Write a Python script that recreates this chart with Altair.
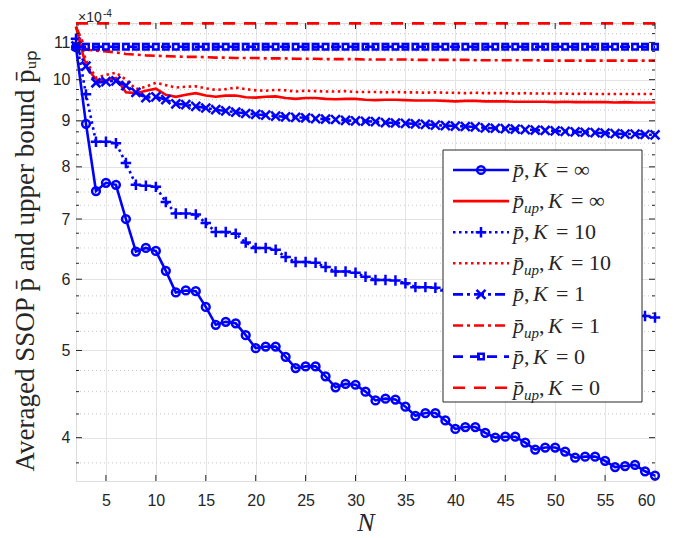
import altair as alt
import pandas as pd

# ---------------- data (values in units of 1e-4) ----------------
N = list(range(2, 61))

p_inf = [10.87, 8.93, 7.52, 7.68, 7.64, 7.00, 6.44, 6.50, 6.45, 6.13,
         5.80, 5.83, 5.82, 5.59, 5.34, 5.38, 5.36, 5.20, 5.03, 5.05,
         5.05, 4.92, 4.78, 4.80, 4.80, 4.68, 4.55, 4.59, 4.58, 4.50,
         4.40, 4.42, 4.41, 4.33, 4.23, 4.26, 4.26, 4.18, 4.09, 4.11,
         4.11, 4.05, 4.00, 4.01, 4.01, 3.95, 3.88, 3.90, 3.90, 3.86,
         3.80, 3.81, 3.81, 3.77, 3.71, 3.72, 3.73, 3.67, 3.63]

pup_inf = [11.45, 10.35, 10.00, 9.97, 10.04, 9.68, 9.66, 9.72, 9.77, 9.62,
           9.57, 9.62, 9.66, 9.60, 9.57, 9.60, 9.60, 9.56, 9.55, 9.57,
           9.58, 9.54, 9.52, 9.54, 9.54, 9.52, 9.51, 9.52, 9.52, 9.50,
           9.49, 9.50, 9.50, 9.49, 9.48, 9.48, 9.48, 9.47, 9.46, 9.47,
           9.47, 9.46, 9.46, 9.46, 9.45, 9.45, 9.45, 9.45, 9.44, 9.45,
           9.44, 9.44, 9.44, 9.44, 9.43, 9.44, 9.43, 9.43, 9.43]

p_10 = [11.10, 9.63, 8.53, 8.53, 8.50, 8.08, 7.64, 7.62, 7.60, 7.31,
        7.10, 7.10, 7.08, 6.93, 6.77, 6.77, 6.74, 6.59, 6.50, 6.50,
        6.47, 6.35, 6.27, 6.27, 6.26, 6.19, 6.12, 6.12, 6.10, 6.04,
        5.99, 5.99, 5.98, 5.94, 5.88, 5.88, 5.87, 5.83, 5.79, 5.79,
        5.78, 5.74, 5.71, 5.71, 5.70, 5.66, 5.63, 5.63, 5.62, 5.59,
        5.56, 5.56, 5.55, 5.52, 5.50, 5.50, 5.49, 5.46, 5.44]

pup_10 = [11.45, 10.50, 10.05, 10.12, 10.18, 10.00, 9.76, 9.82, 9.92, 9.86,
          9.80, 9.82, 9.83, 9.78, 9.74, 9.76, 9.80, 9.76, 9.73, 9.72,
          9.74, 9.73, 9.70, 9.72, 9.71, 9.70, 9.70, 9.71, 9.69, 9.69,
          9.69, 9.68, 9.69, 9.68, 9.68, 9.67, 9.68, 9.67, 9.67, 9.66,
          9.67, 9.66, 9.66, 9.66, 9.65, 9.66, 9.65, 9.65, 9.65, 9.65,
          9.64, 9.65, 9.64, 9.64, 9.64, 9.64, 9.64, 9.64, 9.64]

p_1 = [10.90, 10.35, 9.92, 9.95, 9.97, 9.85, 9.68, 9.55, 9.57, 9.50,
       9.40, 9.38, 9.34, 9.30, 9.26, 9.23, 9.20, 9.17, 9.15, 9.13,
       9.11, 9.09, 9.08, 9.07, 9.05, 9.04, 9.03, 9.01, 9.00, 8.99,
       8.98, 8.96, 8.95, 8.94, 8.93, 8.92, 8.90, 8.89, 8.88, 8.87,
       8.86, 8.84, 8.83, 8.82, 8.81, 8.80, 8.79, 8.78, 8.77, 8.76,
       8.75, 8.74, 8.73, 8.72, 8.71, 8.70, 8.70, 8.69, 8.68]

pup_1 = [11.45, 10.80, 10.77, 10.75, 10.72, 10.68, 10.66, 10.64, 10.63, 10.62,
         10.61, 10.60, 10.60, 10.59, 10.58, 10.58, 10.57, 10.57, 10.57, 10.56,
         10.56, 10.56, 10.55, 10.55, 10.55, 10.54, 10.54, 10.54, 10.54, 10.53,
         10.53, 10.53, 10.53, 10.53, 10.52, 10.52, 10.52, 10.52, 10.52, 10.52,
         10.51, 10.51, 10.51, 10.51, 10.51, 10.51, 10.51, 10.50, 10.50, 10.50,
         10.50, 10.50, 10.50, 10.50, 10.50, 10.50, 10.50, 10.50, 10.50]

p_0 = [10.88, 10.88, 10.88, 10.88, 10.88, 10.88, 10.88, 10.88, 10.88, 10.88,
       10.88, 10.88, 10.88, 10.88, 10.88, 10.88, 10.88, 10.88, 10.88, 10.88,
       10.88, 10.88, 10.88, 10.88, 10.88, 10.88, 10.88, 10.88, 10.88, 10.88,
       10.88, 10.88, 10.88, 10.88, 10.88, 10.88, 10.88, 10.88, 10.88, 10.88,
       10.88, 10.88, 10.88, 10.88, 10.88, 10.88, 10.88, 10.88, 10.88, 10.88,
       10.88, 10.88, 10.88, 10.88, 10.88, 10.88, 10.88, 10.88, 10.88]

pup_0 = [11.55, 11.55, 11.55, 11.55, 11.55, 11.55, 11.55, 11.55, 11.55, 11.55,
         11.55, 11.55, 11.55, 11.55, 11.55, 11.55, 11.55, 11.55, 11.55, 11.55,
         11.55, 11.55, 11.55, 11.55, 11.55, 11.55, 11.55, 11.55, 11.55, 11.55,
         11.55, 11.55, 11.55, 11.55, 11.55, 11.55, 11.55, 11.55, 11.55, 11.55,
         11.55, 11.55, 11.55, 11.55, 11.55, 11.55, 11.55, 11.55, 11.55, 11.55,
         11.55, 11.55, 11.55, 11.55, 11.55, 11.55, 11.55, 11.55, 11.55]

x_ticks = [5, 10, 15, 20, 25, 30, 35, 40, 45, 50, 55, 60]
y_ticks = [4, 5, 6, 7, 8, 9, 10, 11]
y_minor = [3.75, 4.25, 4.5, 4.75, 5.25, 5.5, 5.75, 6.25, 6.5, 6.75,
           7.25, 7.5, 7.75, 8.25, 8.5, 8.75, 9.25, 9.5, 9.75, 10.25,
           10.5, 10.75, 11.25, 11.5]

K_labels = ["∞", "∞", "10", "10", "1", "1", "0", "0"]
is_up = [False, True, False, True, False, True, False, True]

# ---------------- styles ----------------
W, H = 579, 458
BLUE, RED = "#0000ff", "#ff0000"
PLUS = "M-1,0L1,0M0,-1L0,1"
XMARK = "M-1,-1L1,1M-1,1L1,-1"

series = [
    (p_inf, BLUE, None, ("circle", 60)),
    (pup_inf, RED, None, None),
    (p_10, BLUE, [2.5, 3.5], (PLUS, 110)),
    (pup_10, RED, [2.5, 3.5], None),
    (p_1, BLUE, [10, 4, 3, 4], (XMARK, 80)),
    (pup_1, RED, [10, 4, 3, 4], None),
    (p_0, BLUE, [10, 7], ("square", 30)),
    (pup_0, RED, [12, 9], None),
]

xs = alt.Scale(domain=[2, 60], nice=False, zero=False)
ys = alt.Scale(type="log", domain=[3.58, 11.56], nice=False)

X = alt.X("N:Q", scale=xs,
          axis=alt.Axis(values=x_ticks, grid=True, gridColor="#e3e3e3", ticks=False,
                        tickSize=0, domain=False, labelFont="Liberation Sans",
                        labelFontSize=16, labelColor="#262626", labelPadding=11,
                        title="N", titleFont="Liberation Serif", titleFontStyle="italic",
                        titleFontWeight="normal", titleFontSize=26, titleColor="#262626",
                        titleX=W / 2, titleY=49, titleBaseline="alphabetic",
                        titleAlign="center"))
Y = alt.Y("v:Q", scale=ys,
          axis=alt.Axis(values=y_ticks, grid=True, gridColor="#e3e3e3", ticks=False,
                        tickSize=0, domain=False, labelFont="Liberation Sans",
                        labelFontSize=16, labelColor="#262626", labelPadding=6,
                        title="Averaged SSOP p̄ and upper bound p̄ᵤₚ",
                        titleFont="Liberation Serif", titleFontWeight="normal",
                        titleFontSize=27, titleColor="#262626", titleAngle=270,
                        titleX=-43, titleY=237, titleBaseline="alphabetic",
                        titleAlign="center"))

layers = []

# minor grid lines (dotted)
minor_df = pd.DataFrame({"v": y_minor})
layers.append(alt.Chart(minor_df).mark_rule(color="#c8c8c8", strokeWidth=1,
                                            strokeDash=[1, 3]).encode(
    y=Y, x=alt.value(0), x2=alt.value(W)))

for vals, col, dash, mk in series:
    df = pd.DataFrame({"N": N, "v": vals})
    kw = dict(color=col, strokeWidth=2.6, clip=False)
    if dash:
        kw["strokeDash"] = dash
    layers.append(alt.Chart(df).mark_line(**kw).encode(x=X, y=Y))
    if mk:
        shape, size = mk
        layers.append(alt.Chart(df).mark_point(shape=shape, size=size, filled=False,
                                               color=col, strokeWidth=2.5,
                                               opacity=1).encode(x=X, y=Y))

# inward ticks
tick_col = "#262626"
ymaj = pd.DataFrame({"v": y_ticks})
ymin = pd.DataFrame({"v": y_minor})
xmaj = pd.DataFrame({"N": x_ticks})
layers.append(alt.Chart(ymaj).mark_rule(color=tick_col).encode(
    y=Y, x=alt.value(0), x2=alt.value(6)))
layers.append(alt.Chart(ymaj).mark_rule(color=tick_col).encode(
    y=Y, x=alt.value(W - 6), x2=alt.value(W)))
layers.append(alt.Chart(ymin).mark_rule(color=tick_col).encode(
    y=Y, x=alt.value(0), x2=alt.value(3)))
layers.append(alt.Chart(ymin).mark_rule(color=tick_col).encode(
    y=Y, x=alt.value(W - 3), x2=alt.value(W)))
layers.append(alt.Chart(xmaj).mark_rule(color=tick_col).encode(
    x=X, y=alt.value(H - 6), y2=alt.value(H)))
layers.append(alt.Chart(xmaj).mark_rule(color=tick_col).encode(
    x=X, y=alt.value(0), y2=alt.value(6)))

one = pd.DataFrame({"a": [0]})


def text(x, y, s, size, italic=False, font="Liberation Serif", color="#262626"):
    return alt.Chart(one).mark_text(align="left", baseline="alphabetic", font=font,
                                    fontSize=size,
                                    fontStyle="italic" if italic else "normal",
                                    color=color).encode(
        x=alt.value(x), y=alt.value(y), text=alt.value(s))


# exponent label
layers.append(text(2, -1, "×10", 14, font="Liberation Sans"))
layers.append(text(27, -6, "-4", 10, font="Liberation Sans"))

# legend
layers.append(alt.Chart(one).mark_rect(fill="white", stroke="#262626", strokeWidth=1).encode(
    x=alt.value(367), x2=alt.value(566), y=alt.value(127), y2=alt.value(379)))
for i, (vals, col, dash, mk) in enumerate(series):
    yy = 147 + i * 31.1
    kw = dict(color=col, strokeWidth=2.6)
    if dash:
        kw["strokeDash"] = dash
    layers.append(alt.Chart(one).mark_rule(**kw).encode(
        x=alt.value(377), x2=alt.value(433), y=alt.value(yy)))
    if mk:
        shape, size = mk
        layers.append(alt.Chart(one).mark_point(shape=shape, size=size, filled=False,
                                                color=col, strokeWidth=2.5, opacity=1).encode(
            x=alt.value(405), y=alt.value(yy)))
    base = yy + 7
    x0 = 437
    layers.append(text(x0, base, "p\u0304", 22, italic=True))
    if is_up[i]:
        layers.append(text(x0 + 11, base + 5, "up", 15, italic=True))
        xc = x0 + 26
    else:
        xc = x0 + 11
    layers.append(text(xc, base, ",", 22))
    layers.append(text(xc + 9, base, "K", 22, italic=True))
    layers.append(text(xc + 32, base, "= " + K_labels[i], 22))

chart = alt.layer(*layers).properties(
    width=W, height=H,
    autosize=alt.AutoSizeParams(type="none"),
    padding={"left": 68, "top": 15, "right": 26, "bottom": 56},
).configure_view(stroke="#262626", strokeWidth=1).configure(background="white")

chart.save("out.html", embed_options={"renderer": "svg", "actions": False})
